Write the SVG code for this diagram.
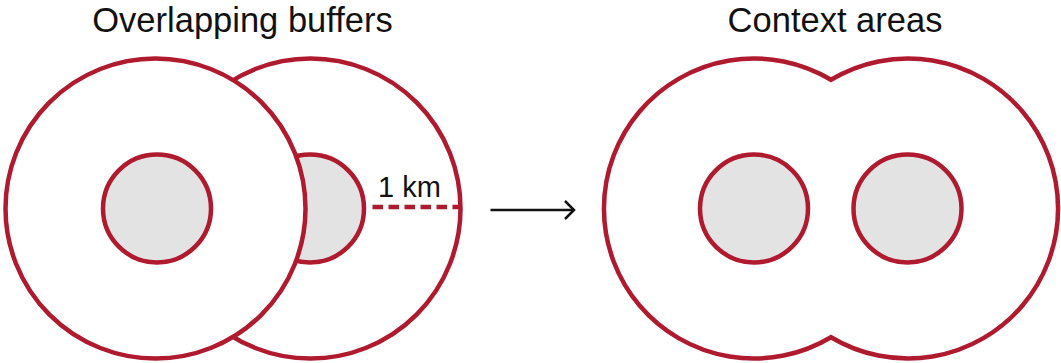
<svg xmlns="http://www.w3.org/2000/svg" width="1061" height="363" viewBox="0 0 1061 363">
<style>
.outer{fill:#fff;stroke:#AF1A2E;stroke-width:4.5}
.inner{fill:#E3E3E3;stroke:#AF1A2E;stroke-width:4.5}
.title{font-family:"Liberation Sans",Arial,sans-serif;font-size:34.5px;fill:#111;text-anchor:middle}
.lbl{font-family:"Liberation Sans",Arial,sans-serif;font-size:29px;fill:#111}
</style>
<rect width="1061" height="363" fill="#fff"/>
<text class="title" x="242.5" y="32">Overlapping buffers</text>
<text class="title" x="835" y="32">Context areas</text>
<g id="buffer2">
<circle class="outer" cx="310.5" cy="208.5" r="150"/>
<circle class="inner" cx="310" cy="208.5" r="54"/>
<line x1="372.5" y1="207" x2="460" y2="207" stroke="#AF1A2E" stroke-width="4.5" stroke-dasharray="10.5 5.5"/>
<text class="lbl" x="378" y="197">1 km</text>
</g>
<g id="buffer1">
<circle class="outer" cx="155.5" cy="208.5" r="150"/>
<circle class="inner" cx="157" cy="208.5" r="54"/>
</g>
<g id="context">
<path class="outer" d="M831 79.8 A150 150 0 1 0 831 337.2 A150 150 0 1 0 831 79.8 Z"/>
<circle class="inner" cx="754" cy="208.5" r="54"/>
<circle class="inner" cx="907.5" cy="208.5" r="54"/>
</g>
<g id="connectors">
<line x1="490.5" y1="210" x2="573" y2="210" stroke="#111" stroke-width="2.5"/>
<polyline points="565,201 574,210 565,219" fill="none" stroke="#111" stroke-width="2.5"/>
</g>
</svg>
